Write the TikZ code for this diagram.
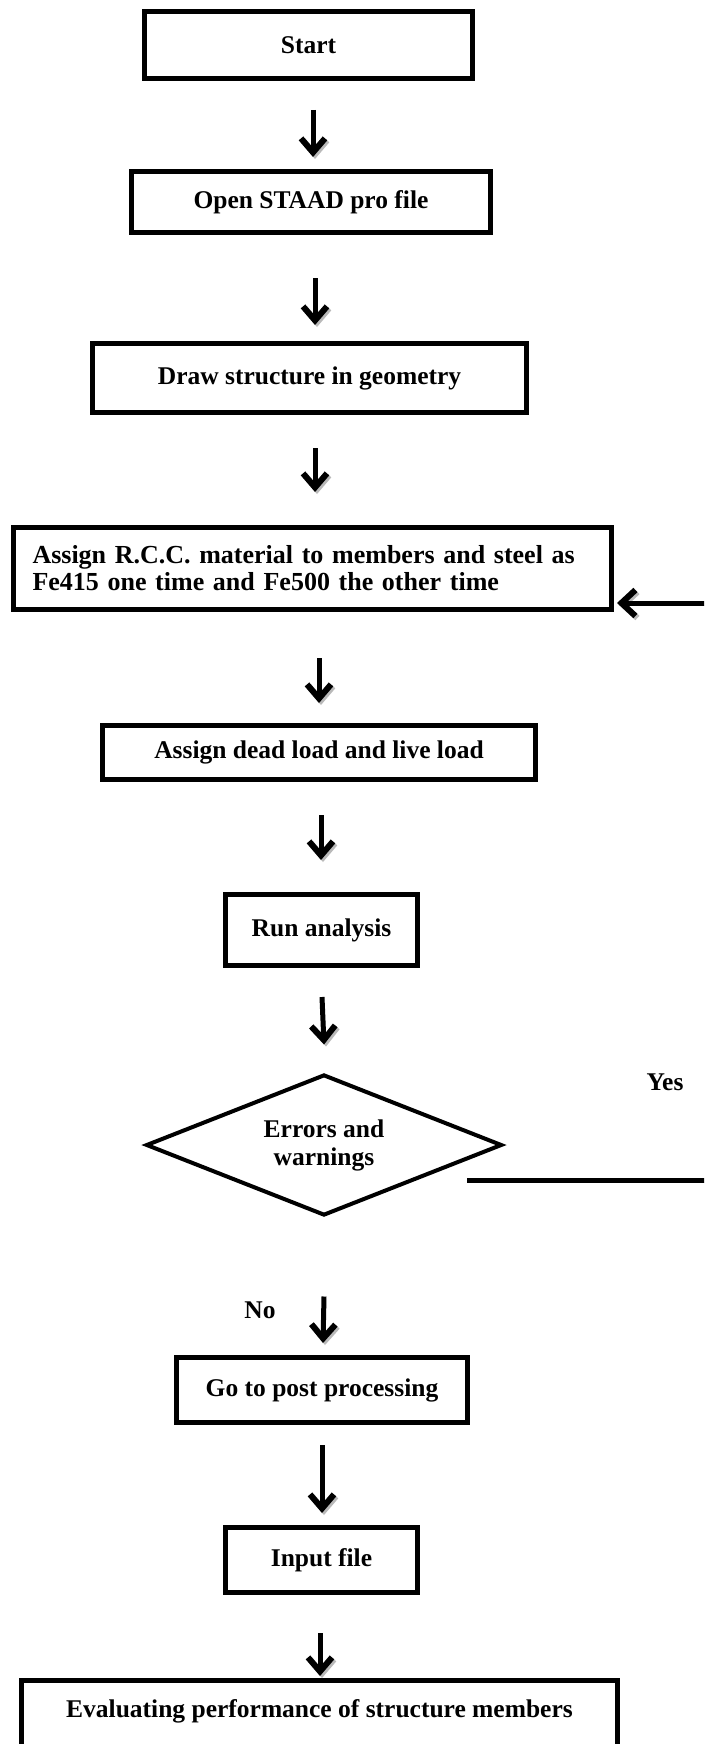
\documentclass[tikz,border=0pt]{standalone}
\usepackage{fontspec}
\setmainfont{Liberation Serif}
\usetikzlibrary{arrows.meta,shapes.geometric}
\tikzset{
  box/.style={draw, line width=5pt, rectangle, inner sep=0pt, align=center,
    font=\bfseries\fontsize{25.5}{28}\selectfont},
  dia/.style={draw, line width=4pt, diamond, shape aspect=2.5, inner sep=0pt, align=center,
    font=\bfseries\fontsize{25.5}{28}\selectfont},
  lbl/.style={inner sep=0pt, font=\bfseries\fontsize{25.5}{28}\selectfont},
  shadowed/.style={preaction={draw=gray!55, transform canvas={shift={(2pt,-2pt)}}}},
  arr/.style={shadowed, line width=5pt, -{Straight Barb[length=14pt, width=24pt, line width=6pt]}},
  looparr/.style={shadowed, line width=5pt, -{Straight Barb[length=14pt, width=26pt, line width=6pt]}},
}
\begin{document}
\begin{tikzpicture}[x=1pt,y=-1pt]
\useasboundingbox (0,0) rectangle (704,1744);
\fill[white] (0,0) rectangle (704,1744);
\begin{scope}
\clip (0,0) rectangle (704,1744);
\node[box, minimum width=328, minimum height=67] (start) at (308.5,45) {Start};
\node[box, minimum width=359, minimum height=61] (open) at (311,202) {Open STAAD pro file};
\node[box, minimum width=434, minimum height=69] (geom) at (309.5,378) {Draw structure in geometry};
\node[box, minimum width=598, minimum height=82, align=left, text width=560,
  font=\bfseries\fontsize{26}{27}\selectfont] (rcc) at (312.5,568.5)
  {Assign R.C.C. material to members and steel as\\Fe415 one time and Fe500 the other time};
\node[box, minimum width=433, minimum height=54] (dead) at (319,752.5) {Assign dead load and live load};
\node[box, minimum width=192, minimum height=71] (run) at (321.5,930) {Run analysis};
\node[dia, minimum width=356, minimum height=141] (err) at (324,1145) {Errors and\\warnings};
\node[box, minimum width=291, minimum height=65] (post) at (322,1390) {Go to post processing};
\node[box, minimum width=192, minimum height=65] (input) at (321.5,1560) {Input file};
\node[box, minimum width=596, anchor=base, text height=36.5, text depth=60] (eval) at (319.5,1717)
  {Evaluating performance of structure members};
\node[lbl] (yes) at (665,1082) {Yes};
\node[lbl] (no) at (260,1310) {No};
\coordinate (loopstart) at (467,1180);

\draw[arr] ([xshift=4.5pt,yshift=-29pt]start.south) -- ([xshift=2pt,yshift=12pt]open.north);
\draw[arr] ([xshift=4pt,yshift=-43pt]open.south) -- ([xshift=5.5pt,yshift=16pt]geom.north);
\draw[arr] ([xshift=5.5pt,yshift=-33pt]geom.south) -- ([xshift=2.5pt,yshift=33pt]rcc.north);
\draw[arr] ([xshift=6.5pt,yshift=-46pt]rcc.south) -- ([yshift=20pt]dead.north);
\draw[arr] ([xshift=2pt,yshift=-33pt]dead.south) -- ([xshift=-0.5pt,yshift=32pt]run.north);
\draw[arr] ([xshift=0.5pt,yshift=-29pt]run.south) -- ([yshift=28pt]err.north);
\draw[arr] ([yshift=-79pt]err.south) -- ([xshift=1pt,yshift=12pt]post.north);
\draw[arr] ([yshift=-20pt]post.south) -- ([xshift=0.5pt,yshift=12pt]input.north);
\draw[arr] ([xshift=-1.5pt,yshift=-38pt]input.south) -- ([xshift=0.5pt,yshift=2pt]eval.north);
\draw[looparr] (loopstart) -- (730,1180) |- ([xshift=3pt,yshift=-34.5pt]rcc.east);
\end{scope}
\end{tikzpicture}
\end{document}
